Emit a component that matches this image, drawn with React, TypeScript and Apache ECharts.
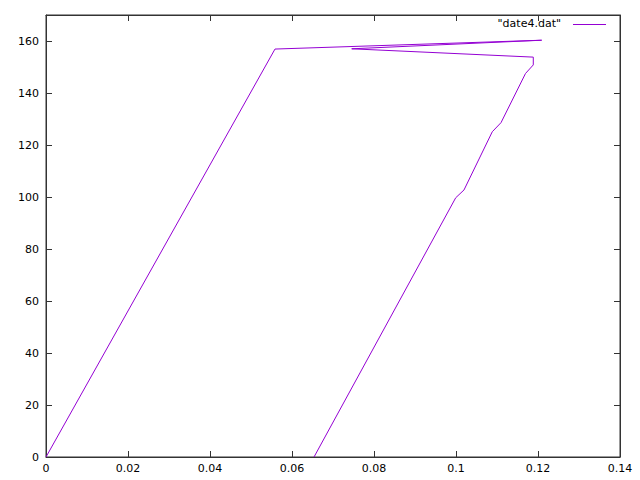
import React, { useEffect, useRef } from "react";
import * as echarts from "echarts";

const seriesName = '"date4.dat"';
const xValues = [0, 0.05585, 0.1209, 0.07456, 0.11885, 0.11885, 0.11695, 0.11098, 0.10885, 0.10195, 0.09993, 0.06537];
const yValues = [0, 156.9, 160.3, 157.0, 153.8, 150.8, 147.5, 128.6, 125.1, 102.7, 99.7, 0];
const xTicks = [0, 0.02, 0.04, 0.06, 0.08, 0.1, 0.12, 0.14];
const yTicks = [0, 20, 40, 60, 80, 100, 120, 140, 160];

const COLOR = "#9400d3";
const FONT = "DejaVu Sans";

export default function App() {
  const ref = useRef<HTMLDivElement>(null);
  useEffect(() => {
    const chart = echarts.init(ref.current!, null, { renderer: "svg" });
    const data = xValues.map((x, i) => [x, yValues[i]]);
    const axisLine = () => ({ show: true, onZero: false, lineStyle: { color: "#333", width: 1 } });
    const tick = (vals: number[]) => ({
      show: true,
      inside: false,
      length: -6,
      customValues: vals,
      lineStyle: { color: "#333" },
    });
    const fmtX = (v: number) => String(Math.round(v * 100) / 100);
    const option: any = {
      animation: false,
      backgroundColor: "#fff",
      color: [COLOR],
      grid: {
        left: 46,
        right: 20,
        top: 15,
        bottom: 23,
        containLabel: false,
        outerBoundsMode: "none",
        show: true,
        borderColor: "#333",
        borderWidth: 1,
      },
      graphic: [
        {
          type: "text",
          right: 79,
          top: 18,
          style: { text: seriesName, fontFamily: FONT, fontSize: 11, fill: "#000" },
        },
        {
          type: "line",
          shape: { x1: 573, y1: 24.5, x2: 606, y2: 24.5 },
          style: { stroke: COLOR, lineWidth: 1 },
        },
      ],
      xAxis: [
        {
          type: "value",
          min: 0,
          max: 0.14,
          interval: 0.02,
          axisLine: axisLine(),
          axisTick: tick(xTicks),
          splitLine: { show: false },
          axisLabel: {
            fontFamily: FONT,
            fontSize: 11,
            color: "#000",
            margin: 6,
            customValues: xTicks,
            formatter: fmtX,
          },
        },
        {
          type: "value",
          position: "top",
          min: 0,
          max: 0.14,
          interval: 0.02,
          axisLine: axisLine(),
          axisTick: tick(xTicks),
          splitLine: { show: false },
          axisLabel: { show: false },
        },
      ],
      yAxis: [
        {
          type: "value",
          min: 0,
          max: 170,
          interval: 10,
          axisLine: axisLine(),
          axisTick: tick(yTicks),
          splitLine: { show: false },
          axisLabel: {
            fontFamily: FONT,
            fontSize: 11,
            color: "#000",
            margin: 7,
            customValues: yTicks,
          },
        },
        {
          type: "value",
          position: "right",
          min: 0,
          max: 170,
          interval: 10,
          axisLine: axisLine(),
          axisTick: tick(yTicks),
          splitLine: { show: false },
          axisLabel: { show: false },
        },
      ],
      series: [
        {
          name: seriesName,
          type: "line",
          data,
          showSymbol: false,
          symbol: "none",
          color: COLOR,
          lineStyle: { color: COLOR, width: 1 },
          itemStyle: { color: COLOR },
          xAxisIndex: 0,
          yAxisIndex: 0,
        },
      ],
    };
    chart.setOption(option);
    return () => chart.dispose();
  }, []);
  return <div ref={ref} style={{ width: 640, height: 480, position: "absolute", left: 0, top: 0 }} />;
}
